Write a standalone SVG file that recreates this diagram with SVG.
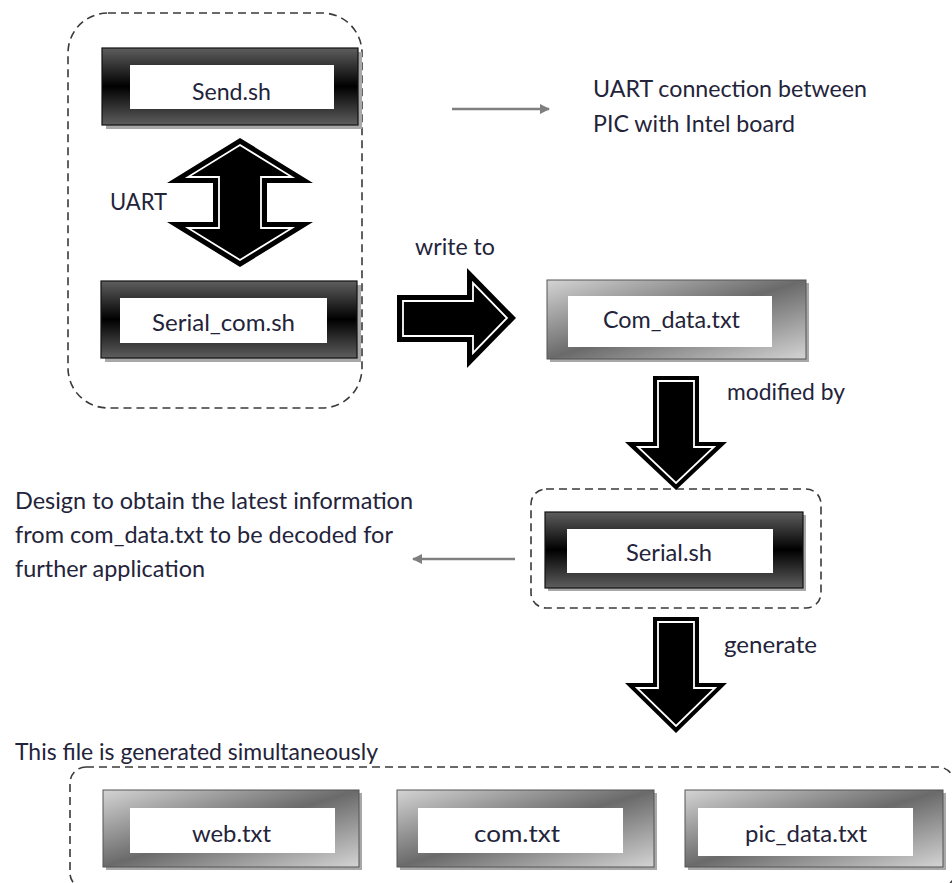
<svg xmlns="http://www.w3.org/2000/svg" width="952" height="883" viewBox="0 0 952 883">
<defs>
<linearGradient id="dark" x1="0" y1="0" x2="0" y2="1">
<stop offset="0" stop-color="#5e5e5e"/>
<stop offset="0.5" stop-color="#000"/>
<stop offset="1" stop-color="#5e5e5e"/>
</linearGradient>
<linearGradient id="light" x1="0" y1="0" x2="1" y2="1">
<stop offset="0" stop-color="#d4d4d4"/>
<stop offset="0.5" stop-color="#6a6a6a"/>
<stop offset="1" stop-color="#d4d4d4"/>
</linearGradient>
<marker id="gh" viewBox="0 0 10 10" refX="9" refY="5" markerWidth="4" markerHeight="4" orient="auto" markerUnits="strokeWidth">
<path d="M0,0 L10,5 L0,10 z" fill="#7f7f7f"/>
</marker>
</defs>
<style>
text{font-family:Lato,"Open Sans","Liberation Sans",sans-serif;font-size:22.5px;fill:#23233a}
.c{text-anchor:middle}
.dash{fill:none;stroke:#3a3a3a;stroke-width:1.6;stroke-dasharray:8 5}
.shadow{fill:#a8a8a8}
.dk{fill:url(#dark);stroke:#111;stroke-width:1.2}
.lt{fill:url(#light);stroke:#555;stroke-width:1}
.in{fill:#fff}
.ao{fill:#000}
.ai{fill:#000;stroke:#fff;stroke-width:1.8;stroke-linejoin:miter}
.g{stroke:#7f7f7f;stroke-width:2.5;fill:none}
</style>
<rect fill="#fff" x="0" y="0" width="952" height="883"/>

<g id="groups">
<rect class="dash" x="68" y="13" width="294" height="395" rx="40"/>
<rect class="dash" x="531" y="489" width="290" height="119" rx="15"/>
<rect class="dash" x="70" y="767" width="884" height="122" rx="16"/>
</g>

<g id="send">
<rect class="shadow" x="106" y="52" width="256" height="77"/>
<rect class="dk" x="102" y="48" width="256" height="77"/>
<rect class="in" x="130" y="65" width="204" height="44"/>
<text x="192" y="100" textLength="79" lengthAdjust="spacingAndGlyphs">Send.sh</text>
</g>

<g id="serial_com">
<rect class="shadow" x="105" y="285" width="256" height="77"/>
<rect class="dk" x="101" y="281" width="256" height="77"/>
<rect class="in" x="120" y="298" width="207" height="45"/>
<text x="152" y="331" textLength="143" lengthAdjust="spacingAndGlyphs">Serial_com.sh</text>
</g>

<g id="com_data">
<rect class="shadow" x="550" y="283" width="259" height="79"/>
<rect class="lt" x="547" y="280" width="259" height="79"/>
<rect class="in" x="568" y="296" width="204" height="51"/>
<text x="603" y="328" textLength="137" lengthAdjust="spacingAndGlyphs">Com_data.txt</text>
</g>

<g id="serial">
<rect class="shadow" x="548" y="515" width="258" height="76"/>
<rect class="dk" x="545" y="512" width="258" height="76"/>
<rect class="in" x="567" y="529" width="206" height="44"/>
<text x="626" y="561" textLength="86" lengthAdjust="spacingAndGlyphs">Serial.sh</text>
</g>

<g id="web">
<rect class="shadow" x="106" y="793" width="256" height="77"/>
<rect class="lt" x="103" y="790" width="256" height="77"/>
<rect class="in" x="130" y="808" width="205" height="45"/>
<text x="192" y="842" textLength="79" lengthAdjust="spacingAndGlyphs">web.txt</text>
</g>

<g id="com">
<rect class="shadow" x="400" y="793" width="257" height="77"/>
<rect class="lt" x="397" y="790" width="257" height="77"/>
<rect class="in" x="418" y="808" width="205" height="45"/>
<text x="474" y="842" textLength="86" lengthAdjust="spacingAndGlyphs">com.txt</text>
</g>

<g id="pic_data">
<rect class="shadow" x="688" y="793" width="258" height="77"/>
<rect class="lt" x="685" y="790" width="258" height="77"/>
<rect class="in" x="698" y="808" width="215" height="48"/>
<text x="745" y="842" textLength="122" lengthAdjust="spacingAndGlyphs">pic_data.txt</text>
</g>

<g id="connectors">
<polygon class="ao" points="240,138 313,183 267,183 267,222 313,222 240,267 167,222 213,222 213,183 167,183"/>
<polygon class="ai" points="240,145 292,177 261,177 261,228 292,228 240,260 188,228 219,228 219,177 188,177"/>
<polygon class="ao" points="397,295 467,295 467,268 516,318 467,368 467,342 397,342"/>
<polygon class="ai" points="403,301 473,301 473,283 507,318 473,353 473,336 403,336"/>
<polygon class="ao" points="653,376 699,376 699,442 727,442 676,490 625,442 653,442"/>
<polygon class="ai" points="658,381 694,381 694,447 714,447 676,483 638,447 658,447"/>
<polygon class="ao" points="653,617 699,617 699,683 727,683 676,733 625,683 653,683"/>
<polygon class="ai" points="658,622 694,622 694,688 715,688 676,726 637,688 658,688"/>
<line class="g" x1="452" y1="109" x2="549" y2="109" marker-end="url(#gh)"/>
<line class="g" x1="515" y1="559" x2="413" y2="559" marker-end="url(#gh)"/>
</g>

<g id="labels">
<text x="593" y="97" textLength="274" lengthAdjust="spacingAndGlyphs">UART connection between</text>
<text x="593" y="132" textLength="202" lengthAdjust="spacingAndGlyphs">PIC with Intel board</text>
<text x="110" y="210" textLength="57" lengthAdjust="spacingAndGlyphs">UART</text>
<text x="415" y="255" textLength="80" lengthAdjust="spacingAndGlyphs">write to</text>
<text x="727" y="400" textLength="118" lengthAdjust="spacingAndGlyphs">modified by</text>
<text x="724" y="653" textLength="93" lengthAdjust="spacingAndGlyphs">generate</text>
<text x="15" y="509" textLength="398" lengthAdjust="spacingAndGlyphs">Design to obtain the latest information</text>
<text x="15" y="543" textLength="378" lengthAdjust="spacingAndGlyphs">from com_data.txt to be decoded for</text>
<text x="15" y="577" textLength="190" lengthAdjust="spacingAndGlyphs">further application</text>
<text x="15" y="760" textLength="363" lengthAdjust="spacingAndGlyphs">This file is generated simultaneously</text>
</g>
</svg>
